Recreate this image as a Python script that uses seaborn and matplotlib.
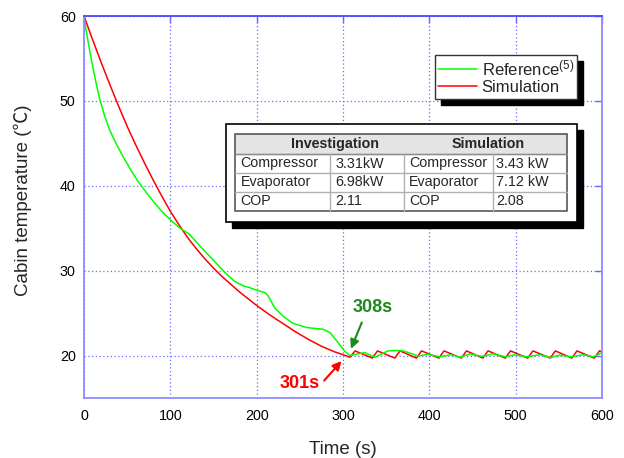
import matplotlib
matplotlib.use('Agg')
import matplotlib.pyplot as plt
import numpy as np
import pandas as pd
import seaborn as sns
from matplotlib.patches import Rectangle
from matplotlib.lines import Line2D

# ---------------- data ----------------
ref_time = [0, 2, 4, 7, 10, 14, 18, 24, 30, 38, 46, 54, 62, 70, 80, 90, 100, 110, 117.5, 122,
            138, 153, 165, 175, 185, 192, 200, 210,
            213.5, 221, 231, 242, 258, 277, 285, 293, 302, 308,
            315, 325, 337, 345, 352, 362, 370, 380, 387, 398, 412, 425, 436,
            447, 461, 474, 488, 499, 513, 528, 540, 551, 565, 578, 590, 598, 600]
ref_temp = [60, 58.6, 57.4, 55.7, 54.1, 52.1, 50.3, 48.2, 46.5, 44.8, 43.3, 41.9, 40.6, 39.5, 38.2, 37.0, 36.0, 35.1, 34.6, 34.3,
            32.5, 30.9, 29.6, 28.7, 28.2, 28.0, 27.7, 27.4,
            27.0, 25.6, 24.6, 23.8, 23.3, 23.1, 22.7, 21.7, 20.5, 20.0,
            20.15, 20.35, 19.8, 20.2, 20.55, 20.6, 20.55, 20.2, 19.95, 20.15, 19.85, 20.1, 19.8,
            20.2, 19.9, 20.2, 19.85, 20.1, 19.85, 20.1, 19.75, 20.05, 19.85, 20.1, 19.85, 20.25, 20.3]

sim_time = [0, 10, 20, 30, 40, 50, 60, 70, 80, 90, 100, 110, 120, 130, 140, 150, 160, 170, 180, 190,
            200, 215, 230, 245, 260, 275, 290, 300, 308,
            314, 334, 340, 360, 366, 385, 391, 411, 417, 437, 443, 462, 468, 488, 494,
            514, 520, 540, 546, 565, 571, 591, 597, 600]
sim_temp = [60, 57.2, 54.5, 51.9, 49.4, 47.0, 44.8, 42.7, 40.7, 38.8, 37.0, 35.4, 33.9, 32.6, 31.4, 30.3, 29.3, 28.4, 27.5, 26.7,
            25.9, 24.8, 23.8, 22.8, 21.9, 21.1, 20.45, 20.1, 19.8,
            20.55, 19.7, 20.55, 19.7, 20.55, 19.7, 20.55, 19.7, 20.55, 19.7, 20.55, 19.7, 20.55, 19.7, 20.55,
            19.7, 20.55, 19.7, 20.55, 19.7, 20.55, 19.7, 20.55, 20.45]

series_names = ['Reference$^{(5)}$', 'Simulation']
series_colors = ['#00ff00', '#ff0000']
x_ticks = [0, 100, 200, 300, 400, 500, 600]
y_ticks = [20, 30, 40, 50, 60]

table_headers = ['Investigation', 'Simulation']
table_items = ['Compressor', 'Evaporator', 'COP']
inv_values = ['3.31kW', '6.98kW', '2.11']
sim_values = ['3.43 kW', '7.12 kW', '2.08']

ann_labels = ['308s', '301s']

# ---------------- style ----------------
sns.set_style('white')
plt.rcParams['font.family'] = ['Liberation Sans', 'DejaVu Sans']
plt.rcParams['mathtext.fontset'] = 'custom'
plt.rcParams['mathtext.rm'] = 'Liberation Sans'
plt.rcParams['mathtext.it'] = 'Liberation Sans'

W, H = 624, 458
fig = plt.figure(figsize=(W / 100, H / 100), dpi=100)
ax = fig.add_axes([84 / W, 1 - 398 / H, 518 / W, 382 / H])

df = pd.concat([
    pd.DataFrame({'Time': ref_time, 'Temp': ref_temp, 'Series': series_names[0]}),
    pd.DataFrame({'Time': sim_time, 'Temp': sim_temp, 'Series': series_names[1]}),
], ignore_index=True)

palette = dict(zip(series_names, series_colors))
sns.lineplot(data=df, x='Time', y='Temp', hue='Series',
             hue_order=[series_names[1], series_names[0]], palette=palette,
             estimator=None, sort=False, linewidth=1.1, ax=ax)
if ax.get_legend() is not None:
    ax.get_legend().remove()

ax.set_xlim(0, 600)
ax.set_ylim(15, 60)
ax.set_xticks(x_ticks)
ax.set_yticks(y_ticks)
ax.grid(True, color='#6a6aff', linestyle=(0, (1, 2)), linewidth=0.9)

for name, sp in ax.spines.items():
    sp.set_visible(True)
    sp.set_color('#8c8cff')
    sp.set_linewidth(1.3)
ax.spines['top'].set_color('#4848ff')

ax.tick_params(axis='both', which='major', direction='in', length=5, width=1,
               color='#6a6aff', labelsize=10.3, top=True, right=True,
               labelcolor='black')
ax.tick_params(axis='x', pad=8)
ax.tick_params(axis='y', pad=6)

ax.set_xlabel('Time (s)', fontsize=13.5, labelpad=13)
ax.set_ylabel('Cabin temperature (\u2103)', fontsize=13.5,
              family=['Liberation Sans', 'Noto Sans CJK SC', 'DejaVu Sans'])
ax.yaxis.set_label_coords(-(84 - 32) / 518, (398 - 200) / 382)

# legend
handles = [Line2D([], [], color=c, lw=1.1) for c in series_colors]
leg = ax.legend(handles, series_names, loc='upper right',
                bbox_to_anchor=((577.3 - 84) / 518, (398 - 55) / 382),
                borderaxespad=0, fontsize=12, frameon=True, fancybox=False,
                edgecolor='#333333', handlelength=2.3, handletextpad=0.3,
                labelspacing=0.12, borderpad=0.2,
                shadow={'ox': 4.3, 'oy': -4.3, 'facecolor': 'black',
                        'edgecolor': 'black', 'alpha': 1})
leg.get_frame().set_linewidth(1.0)
leg.get_frame().set_facecolor('white')

# annotations
ax.annotate('', xy=(308, 20.5), xytext=(323, 24.2),
            arrowprops=dict(arrowstyle='-|>', color='#1a8a1a', lw=1.5, mutation_scale=13))
ax.text(334, 25.7, ann_labels[0], color='#1a8a1a', fontsize=13, fontweight='bold',
        ha='center', va='center')
ax.annotate('', xy=(300.4, 19.6), xytext=(276, 16.8),
            arrowprops=dict(arrowstyle='-|>', color='#ff0000', lw=1.5, mutation_scale=13))
ax.text(250, 16.65, ann_labels[1], color='#ff0000', fontsize=13, fontweight='bold',
        ha='center', va='center')

# table overlay in pixel coordinates
ov = fig.add_axes([0, 0, 1, 1], zorder=10)
ov.set_xlim(0, W)
ov.set_ylim(H, 0)
ov.axis('off')
ov.patch.set_visible(False)

ov.add_patch(Rectangle((232, 130), 351, 98, facecolor='black', edgecolor='black'))
ov.add_patch(Rectangle((226, 124), 351, 98, facecolor='white', edgecolor='black', lw=1.2))

tx0, tx1 = 235, 567
rows = [134, 154.3, 172.7, 191.7, 210.7]
cols = [235, 330, 404.3, 493.3, 567]
ov.add_patch(Rectangle((tx0, rows[0]), tx1 - tx0, rows[1] - rows[0],
                       facecolor='#e4e4e4', edgecolor='none'))
for y in rows[1:-1]:
    ov.plot([tx0, tx1], [y, y], color='#b0b0b0', lw=1.0)
ov.plot([tx0, tx1], [rows[1], rows[1]], color='#8c8c8c', lw=1.0)
for x in cols[1:-1]:
    ov.plot([x, x], [rows[1], rows[-1]], color='#b0b0b0', lw=1.0)
ov.add_patch(Rectangle((tx0, rows[0]), tx1 - tx0, rows[-1] - rows[0],
                       facecolor='none', edgecolor='#4a4a4a', lw=1.1))

hy = (rows[0] + rows[1]) / 2
ov.text(335, hy, table_headers[0], fontsize=10.3, fontweight='bold', ha='center', va='center')
ov.text(488, hy, table_headers[1], fontsize=10.3, fontweight='bold', ha='center', va='center')
for i in range(3):
    cy = (rows[i + 1] + rows[i + 2]) / 2
    ov.text(cols[0] + 5.5, cy, table_items[i], fontsize=10.3, ha='left', va='center')
    ov.text(cols[1] + 5, cy, inv_values[i], fontsize=10.3, ha='left', va='center')
    ov.text(cols[2] + 5, cy, table_items[i], fontsize=10.3, ha='left', va='center')
    ov.text(cols[3] + 3, cy, sim_values[i], fontsize=10.3, ha='left', va='center')

fig.savefig('out.png', dpi=100, facecolor='white')
